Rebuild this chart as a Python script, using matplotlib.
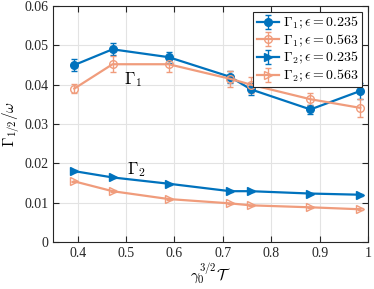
import matplotlib
matplotlib.use("Agg")
import matplotlib.pyplot as plt
from matplotlib.ticker import FuncFormatter

plt.rcParams["font.family"] = ["Liberation Serif", "DejaVu Serif"]
plt.rcParams["mathtext.fontset"] = "cm"
plt.rcParams["font.size"] = 10

x = [0.393, 0.472, 0.588, 0.715, 0.758, 0.881, 0.984]

g1_a = [0.0450, 0.0490, 0.0470, 0.0420, 0.0388, 0.0337, 0.0384]
g1_a_err = [0.0015, 0.0015, 0.0014, 0.0015, 0.0015, 0.0012, 0.0020]
g1_b = [0.0390, 0.0452, 0.0452, 0.0415, 0.0400, 0.0363, 0.0341]
g1_b_err = [0.0012, 0.0020, 0.0020, 0.0020, 0.0020, 0.0015, 0.0022]

g2_a = [0.0180, 0.0164, 0.0148, 0.0129, 0.0129, 0.0123, 0.0120]
g2_b = [0.0154, 0.0129, 0.0109, 0.0098, 0.0093, 0.0088, 0.0083]
g2_err = [0.0002] * 7

blue = "#0072BD"
orange = "#F09C7C"

fig = plt.figure(figsize=(3.74, 2.89), dpi=100)
ax = fig.add_axes([0.143, 0.163, 0.841, 0.816])

ax.errorbar(x, g1_a, yerr=g1_a_err, color=blue, marker="o", ms=5.5, lw=1.6,
            capsize=2.5, elinewidth=1, label=r"$\Gamma_1; \epsilon = 0.235$")
ax.errorbar(x, g1_b, yerr=g1_b_err, color=orange, marker="o", ms=5.5, lw=1.6,
            mfc="none", capsize=2.5, elinewidth=1, label=r"$\Gamma_1; \epsilon = 0.563$")
ax.errorbar(x, g2_a, yerr=g2_err, color=blue, marker=">", ms=5.5, lw=1.6,
            capsize=2.5, elinewidth=1, label=r"$\Gamma_2; \epsilon = 0.235$")
ax.errorbar(x, g2_b, yerr=g2_err, color=orange, marker=">", ms=5.5, lw=1.6,
            mfc="none", capsize=2.5, elinewidth=1, label=r"$\Gamma_2; \epsilon = 0.563$")

ax.text(0.515, 0.0413, r"$\Gamma_1$", fontsize=12, ha="center", va="center")
ax.text(0.52, 0.0183, r"$\Gamma_2$", fontsize=12, ha="center", va="center")

ax.set_xlim(0.35, 1.0)
ax.set_ylim(0, 0.06)
ax.set_xticks([0.4, 0.5, 0.6, 0.7, 0.8, 0.9, 1.0])
ax.set_yticks([0, 0.01, 0.02, 0.03, 0.04, 0.05, 0.06])
ax.xaxis.set_major_formatter(FuncFormatter(lambda v, p: f"{v:g}"))
ax.yaxis.set_major_formatter(FuncFormatter(lambda v, p: f"{v:g}"))
ax.tick_params(direction="in", top=True, right=True, length=4, labelsize=10, colors="#262626")
ax.grid(True, color="#e3e3e3", lw=0.8)
ax.set_axisbelow(True)
for s in ax.spines.values():
    s.set_color("#262626")

ax.set_xlabel(r"$\gamma_0^{3/2}\mathcal{T}$", fontsize=11, labelpad=1)
ax.set_ylabel(r"$\Gamma_{1/2}/\omega$", fontsize=11, labelpad=2)

leg = ax.legend(loc="upper right", fontsize=10, fancybox=False, framealpha=1,
                edgecolor="#262626", borderpad=0.25, labelspacing=0.1,
                handlelength=1.6, handletextpad=0.3, borderaxespad=0.4)
leg.get_frame().set_linewidth(0.8)

fig.savefig("out.png", dpi=100)
